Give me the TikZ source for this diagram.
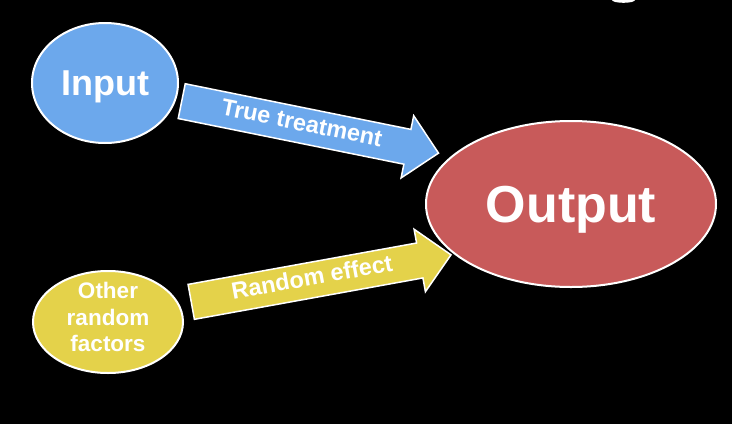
\documentclass[tikz,border=0pt]{standalone}
\usepackage{fontspec}
\setsansfont{Liberation Sans}
\usetikzlibrary{shapes.arrows,shapes.geometric}
\definecolor{inblue}{RGB}{108,168,236}
\definecolor{outred}{RGB}{200,90,90}
\definecolor{otheryellow}{RGB}{228,210,74}
\tikzset{
  blob/.style={ellipse, draw=white, line width=2pt, text=white, inner sep=0pt,
    font=\sffamily\bfseries},
  flowarrow/.style={single arrow, draw=white, line width=1.5pt, text=white,
    single arrow head extend=14pt, single arrow tip angle=90,
    text height=15pt, text depth=4pt, inner ysep=7.5pt, inner xsep=0pt,
    font=\sffamily\bfseries\fontsize{23.5pt}{26pt}\selectfont}
}
\begin{document}
\begin{tikzpicture}[x=1pt,y=-1pt]
				\fill[black] (0,0) rectangle (732,424);
				\useasboundingbox (0,0) rectangle (732,424);
				\fill[white] (623.5,0) ellipse (11.5 and 2.8);
				\node[blob, fill=inblue, minimum width=146pt, minimum height=120pt, text depth=0pt,
				  font=\sffamily\bfseries\fontsize{36pt}{40pt}\selectfont] (input) at (105,83) {Input};
				\node[blob, fill=otheryellow, minimum width=150pt, minimum height=102pt,
				  font=\sffamily\bfseries\fontsize{22.5pt}{26.5pt}\selectfont] (other) at (108,322)
				  {\smash{\raisebox{-3pt}{\begin{tabular}{@{}c@{}}Other\\random\\factors\end{tabular}}}};
				\node[blob, fill=outred, minimum width=290pt, minimum height=166pt, text depth=0pt,
				  font=\sffamily\bfseries\fontsize{52pt}{56pt}\selectfont] (output) at (571,204) {Output};
				\coordinate (tt tail) at (181,101);
				\coordinate (tt tip) at (438,153);
				\coordinate (re tail) at (190.5,302);
				\coordinate (re tip) at (450,255);
				\path (tt tail) -- node[flowarrow, sloped, pos=0, anchor=tail, fill=inblue, minimum height=262pt] {True treatment} (tt tip);
				\path (re tail) -- node[flowarrow, sloped, pos=0, anchor=tail, fill=otheryellow, minimum height=264pt] {Random effect} (re tip);
			\end{tikzpicture}
\end{document}
